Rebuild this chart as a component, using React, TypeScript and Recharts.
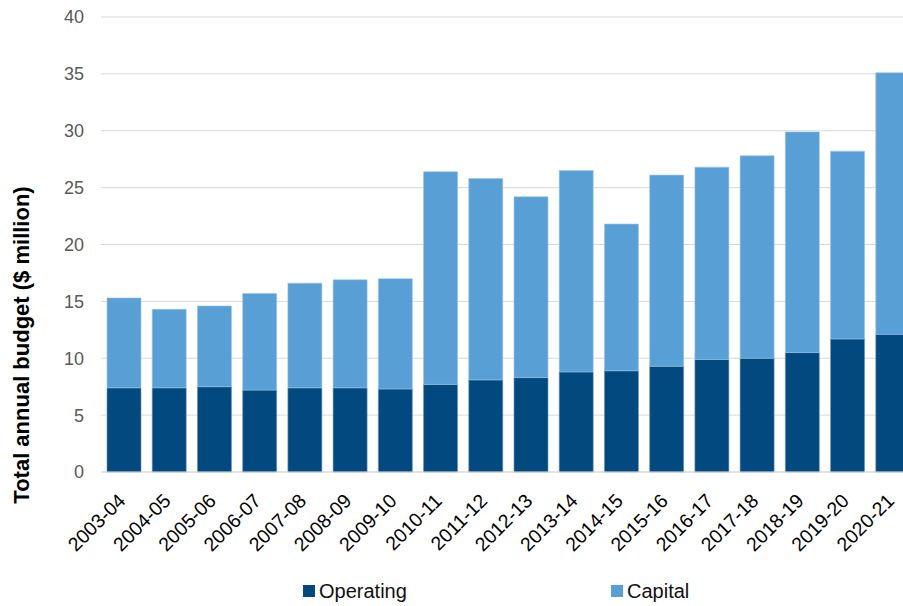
import React from 'react';
import { BarChart, Bar, XAxis, YAxis, CartesianGrid } from 'recharts';

// Financial years shown along the x axis
const years = [
  '2003-04', '2004-05', '2005-06', '2006-07', '2007-08', '2008-09',
  '2009-10', '2010-11', '2011-12', '2012-13', '2013-14', '2014-15',
  '2015-16', '2016-17', '2017-18', '2018-19', '2019-20', '2020-21',
];

// $ million
const operating = [
  7.4, 7.4, 7.5, 7.2, 7.4, 7.4, 7.3, 7.7, 8.1, 8.3, 8.8, 8.9,
  9.3, 9.9, 10.0, 10.5, 11.7, 12.1,
];
const capital = [
  7.9, 6.9, 7.1, 8.5, 9.2, 9.5, 9.7, 18.7, 17.7, 15.9, 17.7, 12.9,
  16.8, 16.9, 17.8, 19.4, 16.5, 23.0,
];

const yTicks = [0, 5, 10, 15, 20, 25, 30, 35, 40];

const OPERATING_COLOR = '#02497f';
const CAPITAL_COLOR = '#579fd4';
const FONT = '"Liberation Sans", Arial, sans-serif';

const data = years.map((year, i) => ({
  year,
  operating: operating[i],
  capital: capital[i],
}));

const YearTick = (props: any) => {
  const { x, y, payload } = props;
  return (
    <g transform={`translate(${x + 3},${y + 30})`}>
      <text
        transform="rotate(-45)"
        textAnchor="end"
        fontSize={19.5}
        fontFamily={FONT}
        fill="#000000"
      >
        {payload.value}
      </text>
    </g>
  );
};

const LegendItem = ({ color, label, left }: { color: string; label: string; left: number }) => (
  <div style={{ position: 'absolute', left, top: 579, display: 'flex', alignItems: 'center', lineHeight: '24px' }}>
    <span style={{ width: 12, height: 12, background: color, display: 'inline-block', marginRight: 4 }} />
    <span style={{ fontSize: 20, fontFamily: FONT, color: '#111' }}>{label}</span>
  </div>
);

export default function App() {
  return (
    <div style={{ position: 'fixed', left: 0, top: 0, width: 903, height: 606, overflow: 'hidden', background: '#fff' }}>
      <BarChart
        width={915}
        height={606}
        data={data}
        margin={{ top: 17, right: 0, bottom: 34, left: 0 }}
      >
        <CartesianGrid vertical={false} stroke="#d9d9d9" />
        <XAxis
          dataKey="year"
          height={100}
          interval={0}
          tickLine={false}
          axisLine={{ stroke: '#d9d9d9' }}
          tickSize={0}
          tickMargin={0}
          tick={<YearTick />}
        />
        <YAxis
          width={101}
          domain={[0, 40]}
          ticks={yTicks}
          interval={0}
          axisLine={false}
          tickLine={false}
          tickSize={6}
          tickMargin={11}
          tick={{ fontSize: 18, fill: '#595959', fontFamily: FONT }}
        />
        <Bar dataKey="operating" stackId="a" fill={OPERATING_COLOR} stroke="#6f93b3" strokeWidth={0.6} barSize={34} isAnimationActive={false} />
        <Bar dataKey="capital" stackId="a" fill={CAPITAL_COLOR} stroke="#9cc6e6" strokeWidth={0.6} barSize={34} isAnimationActive={false} />
      </BarChart>
      <div
        style={{
          position: 'absolute',
          left: 22,
          top: 345,
          transform: 'translate(-50%, -50%) rotate(-90deg)',
          whiteSpace: 'nowrap',
          fontSize: 22,
          fontWeight: 'bold',
          fontFamily: FONT,
          color: '#000',
        }}
      >
        Total annual budget ($ million)
      </div>
      <LegendItem color={OPERATING_COLOR} label="Operating" left={303} />
      <LegendItem color={CAPITAL_COLOR} label="Capital" left={611} />
    </div>
  );
}
